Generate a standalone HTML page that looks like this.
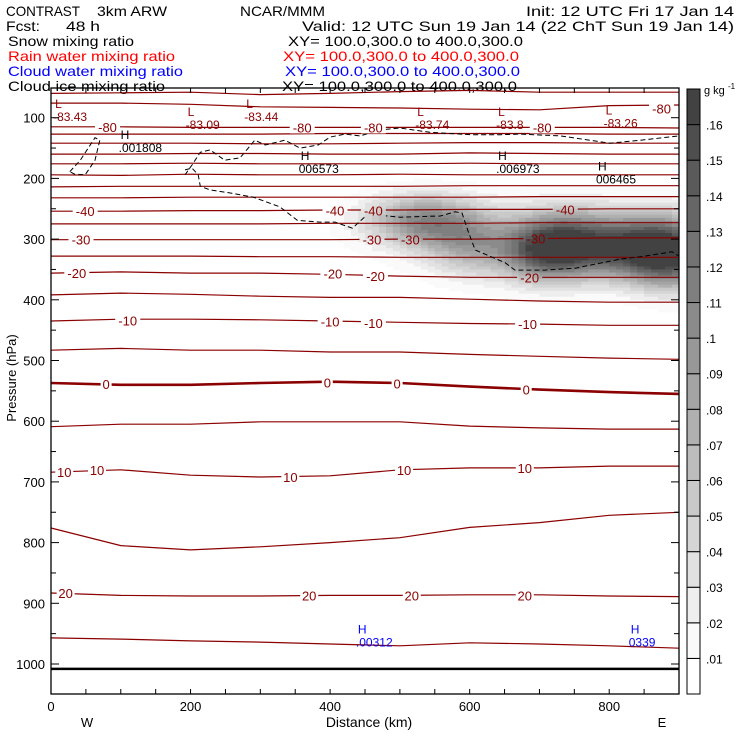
<!DOCTYPE html>
<html><head><meta charset="utf-8"><style>
html,body{margin:0;padding:0;background:#fff;}
svg{display:block;font-family:"Liberation Sans",sans-serif;}
</style></head><body>
<svg id="chart" width="740" height="740" viewBox="0 0 740 740" xmlns="http://www.w3.org/2000/svg">
<defs><mask id="lblmask" maskUnits="userSpaceOnUse" x="0" y="0" width="740" height="740"><rect x="0" y="0" width="740" height="740" fill="#fff"/><g id="maskholes"></g></mask></defs>
<g id="header" font-size="14">
<text x="6" y="16" textLength="74" lengthAdjust="spacingAndGlyphs">CONTRAST</text>
<text x="97" y="16" textLength="70" lengthAdjust="spacingAndGlyphs">3km ARW</text>
<text x="240" y="16" textLength="85" lengthAdjust="spacingAndGlyphs">NCAR/MMM</text>
<text x="526" y="16" textLength="208" lengthAdjust="spacingAndGlyphs">Init: 12 UTC Fri 17 Jan 14</text>
<text x="6" y="31" textLength="34" lengthAdjust="spacingAndGlyphs">Fcst:</text>
<text x="66" y="31" textLength="34" lengthAdjust="spacingAndGlyphs">48 h</text>
<text x="302" y="31" textLength="432" lengthAdjust="spacingAndGlyphs">Valid: 12 UTC Sun 19 Jan 14 (22 ChT Sun 19 Jan 14)</text>
<text x="8" y="46" textLength="126" lengthAdjust="spacingAndGlyphs">Snow mixing ratio</text>
<text x="288" y="46" textLength="235" lengthAdjust="spacingAndGlyphs">XY= 100.0,300.0 to 400.0,300.0</text>
<text x="8" y="61" fill="#ff0000" textLength="167" lengthAdjust="spacingAndGlyphs">Rain water mixing ratio</text>
<text x="283" y="61" fill="#ff0000" textLength="236" lengthAdjust="spacingAndGlyphs">XY= 100.0,300.0 to 400.0,300.0</text>
<text x="8" y="76" fill="#0000ff" textLength="175" lengthAdjust="spacingAndGlyphs">Cloud water mixing ratio</text>
<text x="285" y="76" fill="#0000ff" textLength="235" lengthAdjust="spacingAndGlyphs">XY= 100.0,300.0 to 400.0,300.0</text>
<text x="8" y="91" textLength="157" lengthAdjust="spacingAndGlyphs">Cloud ice mixing ratio</text>
<text x="282" y="91" textLength="235" lengthAdjust="spacingAndGlyphs">XY= 100.0,300.0 to 400.0,300.0</text>
</g>
<g id="shade"></g>
<g id="contours" mask="url(#lblmask)"></g>
<g id="ice" mask="url(#lblmask)"></g>
<g id="labels"></g>
<g id="axes"></g>
<g id="cbar"></g>
</svg>
<script>
// ---- data ----
const distKm = [0,100,200,300,400,500,600,700,800,900];
const tempLevels = [25,20,15,10,5,0,-5,-10,-15,-20,-25,-30,-35,-40,-45,-50,-55,-60,-65,-70,-75,-80,-80,-75];
const tempP25 = [957,959,962,964,967,970,965,967,970,974];
const tempP20 = [883,887,888,888,887,887,886,886,888,889];
const tempP15 = [776,805,812,807,800,792,775,767,755,750];
const tempP10 = [684,680,689,692,690,680,677,677,674,674];
const tempP5 = [609,605,605,601,601,601,608,611,613,613];
const tempP0 = [537,540,540,537,535,537,543,548,552,555];
const tempPm5 = [483,480,483,483,486,486,490,493,496,498];
const tempPm10 = [435,432,432,433,435,437,439,440,442,442];
const tempPm15 = [392,389,391,394,396,396,399,402,404,404];
const tempPm20 = [356,354,356,356,358,361,363,363,363,363];
const tempPm25 = [328,328,328,329,329,330,330,330,330,330];
const tempPm30 = [301,301,301,301,301,300,300,299,298,298];
const tempPm35 = [275,275,275,275,274,274,274,273,273,273];
const tempPm40 = [254,254,253,253,252,252,251,251,250,250];
const tempPm45 = [232,232,231,231,231,231,231,230,230,230];
const tempPm50 = [214,213,213,213,213,213,212,212,212,212];
const tempPm55 = [194,195,193,194,194,193,194,194,194,194];
const tempPm60 = [176,176,175,176,176,176,175,176,176,176];
const tempPm65 = [160,160,159,159,160,160,158,159,160,160];
const tempPm70 = [142,142,142,143,143,142,141,141,142,142];
const tempPm75 = [127,127,127,127,126,126,126,126,127,127];
const tempPm80 = [115,115,116,116,116,116,116,116,116,117];
const tempPm80up = [76,76,78,82,83,84,86,87,80,79];
const tempPm75up = [60,59,58,62,60,57,55,58,58,58];
const tempSeries = [tempP25,tempP20,tempP15,tempP10,tempP5,tempP0,tempPm5,tempPm10,tempPm15,tempPm20,tempPm25,tempPm30,tempPm35,tempPm40,tempPm45,tempPm50,tempPm55,tempPm60,tempPm65,tempPm70,tempPm75,tempPm80,tempPm80up,tempPm75up];
const tempLabelText = ["-40","-40","-40","-40","-30","-30","-30","-30","-20","-20","-20","-20","-10","-10","-10","-10","0","0","0","0","10","10","10","10","10","20","20","20","20","-80","-80","-80","-80","-80"];
const tempLabelKm = [49,407,462,737,43,460,515,695,37,404,465,686,110,400,462,683,79,396,496,681,19,66,343,506,679,21,370,517,679,81,360,462,704,875];
const tempLabelP = [254,253,253,251,301,301,301,299,356,357,361,363,434,436,438,440,539,536,538,548,684,680,692,680,677,883,887,887,887,115,116,116,116,85];
const extLetter = ["L","L","L","L","L","L","H","H","H","H","H","H"];
const extValue = ["-83.43","-83.09","-83.44","-83.74","-83.8","-83.26",".001808","006573",".006973","006465",".00312","0339"];
const extKm = [3,193,277,522,638,792,97,355,638,781,437,828];
const extP = [84,97,84,97,97,95,135,170,170,187,950,950];
const extColor = ["#8b0000","#8b0000","#8b0000","#8b0000","#8b0000","#8b0000","#000","#000","#000","#000","#0000ff","#0000ff"];
const snowKm = [543,601,700,751,837,895,730,500];
const snowP = [272,310,318,310,315,326,300,265];
const snowAmp = [0.07,0.05,0.10,0.10,0.12,0.12,0.04,0.03];
const snowSx = [50,40,40,40,45,40,150,60];
const snowSp = [30,35,35,35,35,40,50,30];
const iceLoopKm = [27,42,63,70,63,49,34,27];
const iceLoopP = [189,170,133,137,170,194,193,189];
const iceUpKm = [192,202,214,228,249,271,292,307,335,357,383,400,421,443,472,500,543,601,644,673,730,801,845,900];
const iceUpP = [194,178,157,153,170,166,137,145,137,150,145,132,127,130,120,117,124,128,128,127,130,142,137,130];
const iceLoKm = [192,202,211,214,228,257,290,328,353,386,407,432,453,465,500,558,579,589,598,608,651,665,708,751,816,845,890,900];
const iceLoP = [186,183,194,213,219,224,231,247,269,272,272,282,260,260,264,262,255,257,288,318,339,351,351,348,333,329,321,328];
const pTicks = [100,200,300,400,500,600,700,800,900,1000];
const xTicks = [0,200,400,600,800];
const cbarLabels = [".01",".02",".03",".04",".05",".06",".07",".08",".09",".1",".11",".12",".13",".14",".15",".16"];

// ---- axes functions ----
const L=51,R=679,T=88,B=694;
const xOf = km => L + km*(R-L)/900;
const yOf = p => 117.7 + (p-100)*0.607;
const NS="http://www.w3.org/2000/svg";
function mk(tag, attrs, parent){const e=document.createElementNS(NS,tag);for(const k in attrs)e.setAttribute(k,attrs[k]);parent.appendChild(e);return e;}
const gShade=document.getElementById('shade'),gC=document.getElementById('contours'),gI=document.getElementById('ice'),gL=document.getElementById('labels'),gA=document.getElementById('axes'),gB=document.getElementById('cbar'),gM=document.getElementById('maskholes');







function greyFor(k){const g=Math.round(250-(k-1)*12.3);return `rgb(${g},${g},${g})`;}
for(let km=0;km<900;km+=10){
  for(let p=150;p<430;p+=5){
    const kc=km+5,pc=p+2.5;let v=0;
    for(let i=0;i<snowKm.length;i++){const dx=(kc-snowKm[i])/snowSx[i],dp=(pc-snowP[i])/snowSp[i];v+=snowAmp[i]*Math.exp(-0.5*(dx*dx+dp*dp));}
    const k=Math.floor(v/0.01);
    if(k<1)continue;
    const r=mk('rect',{x:xOf(km),y:yOf(p),width:xOf(km+10)-xOf(km)+0.4,height:yOf(p+5)-yOf(p)+0.4,fill:greyFor(Math.min(k,16))},gShade);
    
    
  }
}
tempSeries.forEach((arr,i)=>{
  const pts=arr.map((p,j)=>xOf(distKm[j]).toFixed(1)+','+yOf(p).toFixed(1)).join(' ');
  const pl=mk('polyline',{points:pts,fill:'none',stroke:'#8b0000','stroke-width':tempLevels[i]===0?2.6:1.2},gC);
  
  
});
function icePath(ks,ps,name){
  const pts=ks.map((k,j)=>xOf(k).toFixed(1)+','+yOf(ps[j]).toFixed(1)).join(' ');
  const pl=mk('polyline',{points:pts,fill:'none',stroke:'#000','stroke-width':1,'stroke-dasharray':'5,3'},gI);
  
  
}
icePath(iceLoopKm,iceLoopP,'cloud-ice-loop');
icePath(iceUpKm,iceUpP,'cloud-ice-upper');
icePath(iceLoKm,iceLoP,'cloud-ice-lower');
tempLabelText.forEach((t,i)=>{
  const x=xOf(tempLabelKm[i]),y=yOf(tempLabelP[i]);
  const w=t.length*7+4;
  mk('rect',{x:x-w/2,y:y-6,width:w,height:12,fill:'#000'},gM);
  const tx=mk('text',{x:x,y:y+5,'text-anchor':'middle','font-size':13,fill:'#8b0000'},gL);
  tx.textContent=t;
  
  
});
extLetter.forEach((l,i)=>{
  const x=xOf(extKm[i]),y=yOf(extP[i]);
  const a=mk('text',{x:x+2,y:y,'font-size':12,fill:extColor[i]},gL);
  a.textContent=l;
  
  
  const b=mk('text',{x:x,y:y+13,'font-size':12,fill:extColor[i]},gL);
  b.textContent=extValue[i];
  
  
});
const sfc=mk('line',{x1:L,x2:R,y1:yOf(1008),y2:yOf(1008),stroke:'#000','stroke-width':2.5},gA);


const fr=mk('rect',{x:L,y:T,width:R-L,height:B-T,fill:'none',stroke:'#000','stroke-width':1.3},gA);


for(let p=50;p<=1050;p+=50){const y=yOf(p);if(y<T||y>B)continue;const len=p%100===0?8:5;
  const t1=mk('line',{x1:L,x2:L+len,y1:y,y2:y,stroke:'#000'},gA);
  const t2=mk('line',{x1:R-len,x2:R,y1:y,y2:y,stroke:'#000'},gA);}
for(let k=0;k<=900;k+=50){const x=xOf(k);
  const t1=mk('line',{x1:x,x2:x,y1:B-5,y2:B,stroke:'#000'},gA);
  const t2=mk('line',{x1:x,x2:x,y1:T,y2:T+5,stroke:'#000'},gA);}
pTicks.forEach(p=>{const t=mk('text',{x:45,y:yOf(p)+5,'text-anchor':'end','font-size':13},gA);t.textContent=p;});
xTicks.forEach(k=>{const t=mk('text',{x:xOf(k),y:711,'text-anchor':'middle','font-size':13},gA);t.textContent=k;});
const yt=mk('text',{x:0,y:0,'text-anchor':'middle','font-size':13,transform:'translate(16,378) rotate(-90)'},gA);yt.textContent='Pressure (hPa)';
const xt=mk('text',{x:369,y:727,'text-anchor':'middle','font-size':14},gA);xt.textContent='Distance (km)';
const wl=mk('text',{x:87,y:727,'text-anchor':'middle','font-size':13},gA);wl.textContent='W';
const el=mk('text',{x:662,y:727,'text-anchor':'middle','font-size':13},gA);el.textContent='E';
const cbT=89,cbB=694,cbX=687,cbW=13,nb=17,bh=(cbB-cbT)/nb;
for(let k=0;k<nb;k++){const y=cbB-(k+1)*bh;
  const r=mk('rect',{x:cbX,y:y,width:cbW,height:bh,fill:k<1?'#fff':greyFor(k),stroke:'#000','stroke-width':1},gB);
  }
cbarLabels.forEach((t,i)=>{const y=cbB-(i+1)*bh;const tx=mk('text',{x:706,y:y+5,'font-size':12},gB);tx.textContent=t;});
const un=mk('text',{x:704,y:94,'font-size':11},gB);un.textContent='g kg';
const sup=mk('text',{x:728,y:89,'font-size':8},gB);sup.textContent='-1';
</script>
</body></html>
